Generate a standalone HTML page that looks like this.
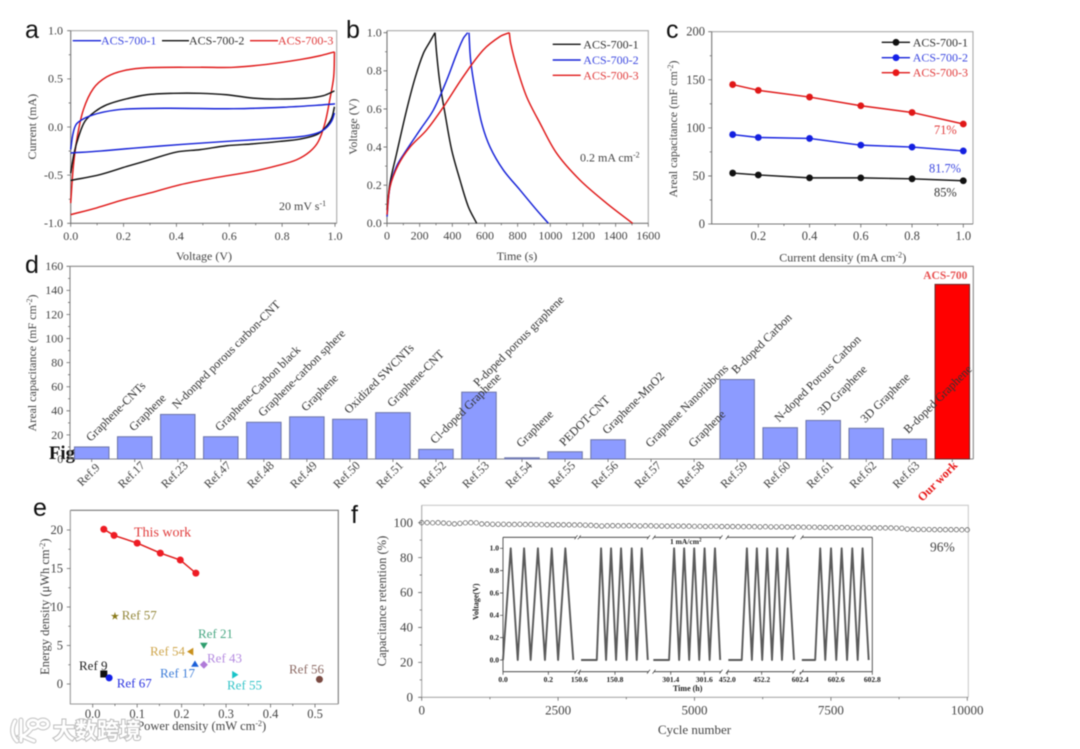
<!DOCTYPE html>
<html lang="en">
<head>
<meta charset="utf-8">
<title>ACS-700 electrochemical performance figure</title>
<style>
html,body{margin:0;padding:0;background:#fff;}
body{width:1080px;height:749px;overflow:hidden;}
#figure{display:block;filter:blur(.45px);}
</style>
</head>
<body>
<svg id="figure" xmlns="http://www.w3.org/2000/svg" width="1080" height="749" viewBox="0 0 1080 749" font-family='"Liberation Serif", serif' fill="#444" font-size="12">
  <rect x="0" y="0" width="1080" height="749" fill="#fff"/>

  <text x="49" y="459" font-size="18.7" font-weight="bold" fill="#111">Fig</text>

  <g id="plot-a"></g>
  <g id="plot-b"></g>
  <g id="plot-c"></g>
  <g id="plot-d"></g>
  <g id="plot-e"></g>
  <g id="plot-f"></g>

  <g font-family='"Liberation Sans", sans-serif' font-size="25" fill="#111">
    <text x="25" y="38">a</text>
    <text x="346" y="38">b</text>
    <text x="666" y="38">c</text>
    <text x="25" y="273">d</text>
    <text x="33" y="516">e</text>
    <text x="351" y="523">f</text>
  </g>

  <g>
    <text x="204" y="260" text-anchor="middle">Voltage (V)</text>
    <text transform="translate(36 126.7) rotate(-90)" text-anchor="middle">Current (mA)</text>
    <line x1="72.7" x2="101" y1="40.7" y2="40.7" stroke="#1420d8" stroke-width="1.4"/>
    <text x="101" y="44.5" fill="#3c48e0">ACS-700-1</text>
    <line x1="162" x2="189" y1="40.7" y2="40.7" stroke="#111" stroke-width="1.4"/>
    <text x="189" y="44.5" fill="#333">ACS-700-2</text>
    <line x1="250" x2="278" y1="40.7" y2="40.7" stroke="#e01818" stroke-width="1.4"/>
    <text x="278" y="44.5" fill="#e03c3c">ACS-700-3</text>
    <text x="279" y="210">20 mV s<tspan dy="-4" font-size="8">-1</tspan></text>
  </g>

  <g>
    <text x="517" y="260" text-anchor="middle">Time (s)</text>
    <text transform="translate(357 126.7) rotate(-90)" text-anchor="middle">Voltage (V)</text>
    <line x1="552.7" x2="580.7" y1="44.3" y2="44.3" stroke="#111" stroke-width="1.4"/>
    <text x="583.3" y="48.3" fill="#333">ACS-700-1</text>
    <line x1="552.7" x2="580.7" y1="60" y2="60" stroke="#1420d8" stroke-width="1.4"/>
    <text x="583.3" y="64" fill="#3c48e0">ACS-700-2</text>
    <line x1="552.7" x2="580.7" y1="75.3" y2="75.3" stroke="#e01818" stroke-width="1.4"/>
    <text x="583.3" y="79.3" fill="#e03c3c">ACS-700-3</text>
    <text x="580" y="161.7">0.2 mA cm<tspan dy="-4" font-size="8">-2</tspan></text>
  </g>

  <g>
    <text x="842.7" y="261.7" text-anchor="middle">Current density (mA cm<tspan dy="-4" font-size="8">-2</tspan><tspan dy="4">)</tspan></text>
    <text transform="translate(677 129) rotate(-90)" text-anchor="middle">Areal capacitance (mF cm<tspan dy="-4" font-size="8">-2</tspan><tspan dy="4">)</tspan></text>
    <line x1="881.7" x2="910" y1="42.3" y2="42.3" stroke="#111" stroke-width="1.4"/>
    <circle cx="896" cy="42.3" r="3.4" fill="#111"/>
    <text x="912.7" y="46.3" fill="#333">ACS-700-1</text>
    <line x1="881.7" x2="910" y1="57.7" y2="57.7" stroke="#1420d8" stroke-width="1.4"/>
    <circle cx="896" cy="57.7" r="3.4" fill="#1420e8"/>
    <text x="912.7" y="61.7" fill="#3c48e0">ACS-700-2</text>
    <line x1="881.7" x2="910" y1="72.7" y2="72.7" stroke="#e01818" stroke-width="1.4"/>
    <circle cx="896" cy="72.7" r="3.4" fill="#e81818"/>
    <text x="912.7" y="76.7" fill="#e03c3c">ACS-700-3</text>
    <text x="934" y="134" font-size="12.4" fill="#e03c3c">71%</text>
    <text x="929" y="172.3" font-size="12.4" fill="#3c48e0">81.7%</text>
    <text x="934" y="196.7" font-size="12.4" fill="#333">85%</text>
  </g>

  <g>
    <text transform="translate(36 363) rotate(-90)" text-anchor="middle">Areal capacitance (mF cm<tspan dy="-4" font-size="8">-2</tspan><tspan dy="4">)</tspan></text>
    <text x="945.3" y="279" text-anchor="middle" font-size="11.5" font-weight="bold" fill="#e85050">ACS-700</text>
  </g>

  <g font-size="13">
    <text x="201.7" y="730" text-anchor="middle" font-size="12.5">Power density (mW cm<tspan dy="-4" font-size="8">-2</tspan><tspan dy="4">)</tspan></text>
    <text transform="translate(49 606.7) rotate(-90)" text-anchor="middle" font-size="12.5">Energy density (μWh cm<tspan dy="-4" font-size="8">-2</tspan><tspan dy="4">)</tspan></text>
    <text x="134" y="536.7" font-size="14" fill="#e03c3c">This work</text>
    <text x="121.7" y="619.3" fill="#94883c">Ref 57</text>
    <text x="198" y="638" fill="#4aa884">Ref 21</text>
    <text x="150" y="655.7" fill="#cfa64c">Ref 54</text>
    <text x="160" y="677.3" fill="#3c7cd8">Ref 17</text>
    <text x="207" y="662.7" fill="#b48ae0">Ref 43</text>
    <text x="79" y="670" fill="#222">Ref 9</text>
    <text x="116.7" y="687.3" fill="#2c34e0">Ref 67</text>
    <text x="227" y="689.3" fill="#34c4c8">Ref 55</text>
    <text x="289" y="673.3" fill="#8c6a64">Ref 56</text>
  </g>

  <g>
    <text x="694.5" y="734" text-anchor="middle" font-size="13">Cycle number</text>
    <text transform="translate(386 601) rotate(-90)" text-anchor="middle" font-size="12.5">Capacitance retention (%)</text>
    <text x="930" y="551.7" font-size="13.5">96%</text>
    <text transform="translate(478.5 601.7) rotate(-90)" text-anchor="middle" font-size="8" font-weight="bold" fill="#222">Voltage(V)</text>
    <text x="687.7" y="691" text-anchor="middle" font-size="8" font-weight="bold" fill="#222">Time (h)</text>
    <text x="670" y="544" font-size="7.5" font-weight="bold" fill="#222">1 mA/cm<tspan dy="-2.5" font-size="5">2</tspan></text>
  </g>

  <g>
    <path d="M15 721 C11 729 12 736 17 741 M21 720 L21 741 M31 729 C28 733 25 735 22 736 C27 738 31 740 34 741 M28 724 a5 4 0 1 0 10 0 a5 4 0 1 0 -10 0 M38 724 a5 4 0 1 0 10 0 a5 4 0 1 0 -10 0" fill="none" stroke="#c8c8c8" stroke-width="5" stroke-linecap="round"/>
    <path d="M15 721 C11 729 12 736 17 741 M21 720 L21 741 M31 729 C28 733 25 735 22 736 C27 738 31 740 34 741 M28 724 a5 4 0 1 0 10 0 a5 4 0 1 0 -10 0 M38 724 a5 4 0 1 0 10 0 a5 4 0 1 0 -10 0" fill="none" stroke="#fff" stroke-width="2.8" stroke-linecap="round"/>
    <text x="53" y="738.5" font-family='"Liberation Sans", "Noto Sans CJK SC", sans-serif' font-size="22" font-weight="bold" fill="#fff" stroke="#bcbcbc" stroke-width="2" style="paint-order:stroke">大数跨境</text>
  </g>
</svg>

<script>
/* ---------- Panel a: cyclic voltammetry ---------- */
const aXTickLabels = ['0.0','0.2','0.4','0.6','0.8','1.0'];
const aYTickLabels = ['-1.0','-0.5','0.0','0.5','1.0'];
const cvBlueUpV = [0,.008,.02,.042,.073,.124,.2,.363,.615,.805,.93,1];
const cvBlueUpI = [-.235,-.08,.025,.075,.115,.155,.185,.195,.19,.205,.225,.24];
const cvBlueDownV = [.998,.987,.962,.93,.868,.74,.615,.426,.237,.11,0];
const cvBlueDownI = [.145,.06,-.02,-.065,-.1,-.125,-.145,-.18,-.22,-.25,-.27];
const cvBlackUpV = [0,.013,.03,.054,.092,.136,.2,.288,.39,.49,.59,.69,.78,.893,.956,.998];
const cvBlackUpI = [-.48,-.27,-.1,.06,.16,.23,.285,.335,.35,.35,.335,.3,.29,.3,.325,.375];
const cvBlackDownV = [.998,.987,.962,.93,.868,.79,.69,.59,.49,.4,.3,.212,.11,0];
const cvBlackDownI = [.21,.09,-.01,-.08,-.125,-.15,-.175,-.195,-.235,-.26,-.34,-.41,-.495,-.555];
const cvRedUpV = [0,.01,.025,.048,.086,.136,.2,.288,.49,.615,.74,.868,.943,.998];
const cvRedUpI = [-.79,-.41,-.1,.18,.4,.52,.585,.615,.62,.62,.65,.7,.74,.78];
const cvRedDownV = [.998,.995,.98,.962,.937,.905,.855,.79,.69,.54,.413,.3,.2,.098,0];
const cvRedDownI = [.78,.52,.28,.04,-.15,-.255,-.34,-.395,-.46,-.53,-.6,-.685,-.755,-.84,-.91];

/* ---------- Panel b: charge / discharge ---------- */
const bXTickLabels = ['0','200','400','600','800','1000','1200','1400','1600'];
const bYTickLabels = ['0.0','0.2','0.4','0.6','0.8','1.0'];
const gcdBlackChargeT = [0,18,59,120,171,222,263,294];
const gcdBlackChargeV = [.07,.21,.367,.594,.76,.89,.953,1];
const gcdBlackDischargeT = [294,304,324,355,396,447,498,549];
const gcdBlackDischargeV = [1,.89,.735,.577,.385,.227,.087,0];
const gcdBlueChargeT = [0,18,59,120,202,284,365,427,467,494];
const gcdBlueChargeV = [.035,.19,.3,.385,.49,.594,.75,.89,.97,1];
const gcdBlueDischargeT = [502,512,539,580,631,712,814,916,988];
const gcdBlueDischargeV = [1,.857,.7,.525,.4,.28,.175,.07,0];
const gcdRedChargeT = [0,18,69,141,243,345,467,590,692,749];
const gcdRedChargeV = [.045,.19,.306,.4,.49,.61,.77,.91,.98,1];
const gcdRedDischargeT = [749,757,794,855,937,1039,1181,1345,1504];
const gcdRedDischargeV = [1,.945,.82,.664,.525,.367,.227,.105,0];

/* ---------- Panel c: rate capability ---------- */
const cXTickLabels = ['0.2','0.4','0.6','0.8','1.0'];
const cYTickLabels = ['0','50','100','150','200'];
const rateCurrent = [.1,.2,.4,.6,.8,1];
const rateBlack = [53,51,48,48,47,45];
const rateBlue = [93,90,89,82,80,76];
const rateRed = [145,139,132,123,116,104];

/* ---------- Panel d: literature comparison ---------- */
const dYTickLabels = ['0','20','40','60','80','100','120','140','160'];
const dRefs = ['Ref.9','Ref.17','Ref.23','Ref.47','Ref.48','Ref.49','Ref.50','Ref.51','Ref.52','Ref.53','Ref.54','Ref.55','Ref.56','Ref.57','Ref.58','Ref.59','Ref.60','Ref.61','Ref.62','Ref.63','Our work'];
const dMaterials = ['Graphene-CNTs','Graphene','N-donped porous carbon-CNT','Graphene-Carbon black','Graphene-carbon sphere','Graphene','Oxidized SWCNTs','Graphene-CNT','Cl-doped Graphene','P-doped porous graphene','Graphene','PEDOT-CNT','Graphene-MnO2','Graphene Nanoribbons','Graphene','B-doped Carbon','N-doped Porous Carbon','3D Graphene','3D Graphene','B-doped Graphene',''];
const dValues = [10,18.5,37,18.5,30.5,35,33,38.5,8,55.5,1,6,16,0,0,66,26,32,25.5,16.5,145];

/* ---------- Panel e: Ragone ---------- */
const eXTickLabels = ['0.0','0.1','0.2','0.3','0.4','0.5'];
const eYTickLabels = ['0','5','10','15','20'];
const ragonePower = [.025,.048,.1,.152,.197,.232];
const ragoneEnergy = [20.1,19.3,18.3,17,16.1,14.4];
const refNames = ['ref-9','ref-67','ref-57','ref-21','ref-54','ref-17','ref-43','ref-55','ref-56'];
const refPower = [.025,.037,.05,.25,.22,.23,.25,.32,.51];
const refEnergy = [1.3,.8,8.8,5,4.2,2.6,2.5,1.2,.6];
const refShapes = ['square','circle','star','down','left','up','diamond','right','circle'];
const refColors = ['#111','#1420e8','#8a7a1a','#2e9e6e','#c8901c','#1c60d8','#b07ad8','#18c4c8','#7a4a42'];

/* ---------- Panel f: cycling stability ---------- */
const fXTickLabels = ['0','2500','5000','7500','10000'];
const fYTickLabels = ['0','20','40','60','80','100'];
const retentionStep = 100;
const retention = [100,100,99.9,100,99.8,99.6,99.3,99.6,99.9,100,99.9,99.3,99.2,99.1,99.1,99.1,99,99,99.1,99,99,98.9,98.9,98.8,98.8,98.8,98.8,98.8,98.7,98.7,98.6,98.5,98.3,98.1,98.2,98.3,98.2,98.2,98.3,98.2,98.1,98.2,98.2,98.1,98.1,98,98.1,98.1,98,98,97.9,97.9,97.8,97.9,97.9,97.8,97.8,97.8,97.7,97.7,97.7,97.7,97.6,97.7,97.6,97.6,97.6,97.5,97.5,97.5,97.4,97.4,97.4,97.3,97.3,97.2,97.2,97.2,97.2,97.1,97.1,97.1,97.1,97,97,97,97,96.9,96.8,96.3,96.2,96.1,96.1,96.1,96,96,96,96,96,95.9,95.9];

/* Inset: galvanostatic cycling, broken time axis */
const insetYTickLabels = ['0.0','0.2','0.4','0.6','0.8','1.0'];
const insetSeg1Ticks = ['0.0','0.2'];
const insetSeg2Ticks = ['150.6','150.8'];
const insetSeg3Ticks = ['301.4','301.6'];
const insetSeg4Ticks = ['452.0','452.2'];
const insetSeg5Ticks = ['602.4','602.6','602.8'];
const insetSeg1Time = [0,.034,.065,.093,.122,.154,.185,.215,.243,.275,.31];
const insetSeg1Volt = [0,1,0,1,0,1,0,1,0,1,0];
const insetSeg2Time = [150.61,150.698,150.722,150.75,150.778,150.806,150.834,150.866,150.894,150.922,150.95,150.984];
const insetSeg2Volt = [0,0,1,0,1,0,1,0,1,0,1,0];
const insetSeg3Time = [301.296,301.39,301.42,301.45,301.48,301.51,301.54,301.57,301.602,301.632,301.664,301.695];
const insetSeg3Volt = [0,0,1,0,1,0,1,0,1,0,1,0];
const insetSeg4Time = [452.006,452.084,452.114,452.143,452.172,452.203,452.232,452.26,452.29,452.318,452.351,452.388];
const insetSeg4Volt = [0,0,1,0,1,0,1,0,1,0,1,0];
const insetSeg5Time = [602.409,602.483,602.511,602.539,602.571,602.6,602.63,602.66,602.689,602.719,602.746,602.78];
const insetSeg5Volt = [0,0,1,0,1,0,1,0,1,0,1,0];

/* ---------- helpers ---------- */
const NS = 'http://www.w3.org/2000/svg';
function shape(parent, tag, attrs) {
  const el = document.createElementNS(NS, tag);
  for (const k in attrs) el.setAttribute(k, attrs[k]);
  parent.appendChild(el);
  return el;
}
function linear(d0, d1, r0, r1) {
  return v => r0 + (v - d0) * (r1 - r0) / (d1 - d0);
}
function smoothPath(xs, ys, sx, sy) {
  const p = xs.map((x, i) => [sx(x), sy(ys[i])]);
  const tangent = i => {
    const a = p[Math.max(i - 1, 0)], c = p[Math.min(i + 1, p.length - 1)];
    const dx = c[0] - a[0], dy = c[1] - a[1], n = Math.hypot(dx, dy) || 1;
    return [dx / n, dy / n];
  };
  let d = 'M' + p[0][0].toFixed(2) + ' ' + p[0][1].toFixed(2);
  for (let i = 0; i < p.length - 1; i++) {
    const b = p[i], c = p[i + 1], len = Math.hypot(c[0] - b[0], c[1] - b[1]) / 3;
    const t0 = tangent(i), t1 = tangent(i + 1);
    d += 'C' + (b[0] + t0[0] * len).toFixed(2) + ' ' + (b[1] + t0[1] * len).toFixed(2) + ' ' + (c[0] - t1[0] * len).toFixed(2) + ' ' + (c[1] - t1[1] * len).toFixed(2) + ' ' + c[0].toFixed(2) + ' ' + c[1].toFixed(2);
  }
  return d;
}
function polyPath(xs, ys, sx, sy) {
  return xs.map((x, i) => (i ? 'L' : 'M') + sx(x).toFixed(2) + ' ' + sy(ys[i]).toFixed(2)).join('');
}
function addCurve(parent, name, d, color, width) {
  const c = shape(parent, 'path', {d: d, fill: 'none', stroke: color, 'stroke-width': width || 1.45, 'stroke-linejoin': 'round'});
  
  
  return c;
}
function addText(parent, name, x, y, str, attrs) {
  const t = shape(parent, 'text', Object.assign({x: x, y: y}, attrs || {}));
  t.textContent = str;
  
  
  return t;
}
function addDot(parent, name, cx, cy, r, color) {
  const c = shape(parent, 'circle', {cx: cx, cy: cy, r: r, fill: color});
  
  
  return c;
}
function frame(parent, box, edge, faint) {
  const far = shape(parent, 'path', {d: 'M' + box.l + ' ' + box.t + 'H' + box.r + 'V' + box.b, fill: 'none', stroke: faint, 'stroke-width': 1.1});
  
  
  const main = shape(parent, 'path', {d: 'M' + box.l + ' ' + box.t + 'V' + box.b + 'H' + box.r, fill: 'none', stroke: edge, 'stroke-width': 1.1});
  
  
}
function midpoints(labels) {
  const out = [];
  for (let i = 0; i < labels.length - 1; i++) out.push((parseFloat(labels[i]) + parseFloat(labels[i + 1])) / 2);
  return out;
}
function xAxis(parent, box, sx, labels, baseline, size, minor) {
  let d = '';
  labels.forEach(s => { d += 'M' + sx(parseFloat(s)).toFixed(2) + ' ' + box.b + 'v3.5'; });
  if (minor) midpoints(labels).forEach(v => { d += 'M' + sx(v).toFixed(2) + ' ' + box.b + 'v2'; });
  const ticks = shape(parent, 'path', {d: d, stroke: '#666', 'stroke-width': .8, fill: 'none'});
  
  
  labels.forEach(s => addText(parent, 'x-tick-label', sx(parseFloat(s)), baseline, s, {'text-anchor': 'middle', 'font-size': size}));
}
function yAxis(parent, box, sy, labels, right, size, minor) {
  let d = '';
  labels.forEach(s => { d += 'M' + box.l + ' ' + sy(parseFloat(s)).toFixed(2) + 'h-3.5'; });
  if (minor) midpoints(labels).forEach(v => { d += 'M' + box.l + ' ' + sy(v).toFixed(2) + 'h-2'; });
  const ticks = shape(parent, 'path', {d: d, stroke: '#666', 'stroke-width': .8, fill: 'none'});
  
  
  labels.forEach(s => addText(parent, 'y-tick-label', right, sy(parseFloat(s)) + size * .32, s, {'text-anchor': 'end', 'font-size': size}));
}
function markerPath(kind, cx, cy, r) {
  const pts = {
    square: [[-r,-r],[r,-r],[r,r],[-r,r]],
    up: [[0,-r],[r*1.1,r*.8],[-r*1.1,r*.8]],
    down: [[0,r],[r*1.1,-r*.8],[-r*1.1,-r*.8]],
    left: [[-r,0],[r*.8,-r*1.1],[r*.8,r*1.1]],
    right: [[r,0],[-r*.8,-r*1.1],[-r*.8,r*1.1]],
    diamond: [[0,-r*1.15],[r*1.15,0],[0,r*1.15],[-r*1.15,0]]
  };
  if (kind === 'star') {
    const s = [];
    for (let i = 0; i < 10; i++) {
      const rad = i % 2 ? r * .45 : r * 1.25, ang = -Math.PI / 2 + i * Math.PI / 5;
      s.push([rad * Math.cos(ang), rad * Math.sin(ang)]);
    }
    pts.star = s;
  }
  return pts[kind].map((p, i) => (i ? 'L' : 'M') + (cx + p[0]).toFixed(2) + ' ' + (cy + p[1]).toFixed(2)).join('') + 'Z';
}

/* ---------- draw panel a ---------- */
(function () {
  const g = document.getElementById('plot-a');
  const box = {l: 70.7, r: 336.7, t: 30.7, b: 223.3};
  const sx = linear(0, 1, 70.7, 335);
  const sy = linear(-1, 1, 223.3, 30.7);
  frame(g, box, '#777', '#aaa');
  xAxis(g, box, sx, aXTickLabels, 240, 12, true);
  yAxis(g, box, sy, aYTickLabels, 63, 12, true);
  addCurve(g, 'cv-curve-red-forward', smoothPath(cvRedUpV, cvRedUpI, sx, sy), '#e01818');
  addCurve(g, 'cv-curve-red-reverse', smoothPath(cvRedDownV, cvRedDownI, sx, sy), '#e01818');
  addCurve(g, 'cv-curve-black-forward', smoothPath(cvBlackUpV, cvBlackUpI, sx, sy), '#111');
  addCurve(g, 'cv-curve-black-reverse', smoothPath(cvBlackDownV, cvBlackDownI, sx, sy), '#111');
  addCurve(g, 'cv-curve-blue-forward', smoothPath(cvBlueUpV, cvBlueUpI, sx, sy), '#1420d8');
  addCurve(g, 'cv-curve-blue-reverse', smoothPath(cvBlueDownV, cvBlueDownI, sx, sy), '#1420d8');
})();

/* ---------- draw panel b ---------- */
(function () {
  const g = document.getElementById('plot-b');
  const box = {l: 387, r: 648.3, t: 30.7, b: 223.3};
  const sx = linear(0, 1600, 387, 648.3);
  const sy = linear(0, 1, 223.3, 32.7);
  frame(g, box, '#777', '#aaa');
  xAxis(g, box, sx, bXTickLabels, 239.5, 12, true);
  yAxis(g, box, sy, bYTickLabels, 381.7, 12, true);
  addCurve(g, 'gcd-black-charge', smoothPath(gcdBlackChargeT, gcdBlackChargeV, sx, sy), '#111');
  addCurve(g, 'gcd-black-discharge', smoothPath(gcdBlackDischargeT, gcdBlackDischargeV, sx, sy), '#111');
  addCurve(g, 'gcd-blue-charge', smoothPath(gcdBlueChargeT, gcdBlueChargeV, sx, sy), '#1420d8');
  addCurve(g, 'gcd-blue-discharge', smoothPath(gcdBlueDischargeT, gcdBlueDischargeV, sx, sy), '#1420d8');
  addCurve(g, 'gcd-red-charge', smoothPath(gcdRedChargeT, gcdRedChargeV, sx, sy), '#e01818');
  addCurve(g, 'gcd-red-discharge', smoothPath(gcdRedDischargeT, gcdRedDischargeV, sx, sy), '#e01818');
})();

/* ---------- draw panel c ---------- */
(function () {
  const g = document.getElementById('plot-c');
  const box = {l: 711.7, r: 973, t: 31.7, b: 224};
  const sx = linear(.2, 1, 758.3, 963.3);
  const sy = linear(0, 200, 224, 31.7);
  frame(g, box, '#777', '#aaa');
  xAxis(g, box, sx, cXTickLabels, 240, 12.5, true);
  yAxis(g, box, sy, cYTickLabels, 705, 12.5, true);
  [[rateBlack, '#111', 'black'], [rateBlue, '#1420e0', 'blue'], [rateRed, '#e01818', 'red']].forEach(function (s) {
    addCurve(g, 'rate-line-' + s[2], polyPath(rateCurrent, s[0], sx, sy), s[1]);
    s[0].forEach(function (v, i) {
      addDot(g, 'rate-point-' + s[2], sx(rateCurrent[i]), sy(v), 3.4, s[1]);
    });
  });
})();

/* ---------- draw panel d ---------- */
(function () {
  const g = document.getElementById('plot-d');
  const box = {l: 70, r: 973.3, t: 266.3, b: 459};
  const sy = linear(0, 160, 459, 266.3);
  const first = 91.7, step = 43.03, barW = 34.5;
  const bandCenter = i => first + i * step;
  frame(g, box, '#888', '#888');
  yAxis(g, box, sy, dYTickLabels, 63.3, 12, true);
  dValues.forEach(function (v, i) {
    const c = bandCenter(i);
    const last = i === dValues.length - 1;
    if (v > 0) {
      const bar = shape(g, 'rect', {x: c - barW / 2, y: sy(v), width: barW, height: 459 - sy(v), fill: last ? '#ff0000' : '#8c9bff', stroke: last ? '#6a2a2a' : '#6c74a8', 'stroke-width': 1});
      
      
    }
    const tick = shape(g, 'path', {d: 'M' + c.toFixed(2) + ' 459v3', stroke: '#666', 'stroke-width': .8});
    
    
    const cx = last ? c - 12 : c - .5, cy = last ? 484 : 477.5;
    const t = addText(g, 'x-category-label', cx, cy, dRefs[i], {'text-anchor': 'middle', transform: 'rotate(-45 ' + cx + ' ' + cy + ')'});
    if (last) {
      t.setAttribute('fill', '#e81818');
      t.setAttribute('font-weight', 'bold');
    }
  });
  dMaterials.forEach(function (m, i) {
    if (!m) return;
    const px = bandCenter(i) - 1;
    const py = Math.min(sy(dValues[i]) - 5, 448);
    addText(g, 'material-label', px, py, m, {transform: 'rotate(-45 ' + px + ' ' + py + ')', fill: '#333'});
  });
})();

/* ---------- draw panel e ---------- */
(function () {
  const g = document.getElementById('plot-e');
  const box = {l: 70.3, r: 338.3, t: 510.3, b: 704};
  const sx = linear(0, .5, 92.7, 315);
  const sy = linear(0, 20, 684, 530);
  frame(g, box, '#999', '#777');
  xAxis(g, box, sx, eXTickLabels, 718, 12.5, true);
  yAxis(g, box, sy, eYTickLabels, 63, 12.5, true);
  addCurve(g, 'this-work-line', polyPath(ragonePower, ragoneEnergy, sx, sy), '#e01818');
  ragonePower.forEach(function (p, i) {
    addDot(g, 'this-work-point', sx(p), sy(ragoneEnergy[i]), 3.5, '#ee1c24');
  });
  refNames.forEach(function (n, i) {
    if (refShapes[i] === 'circle') {
      addDot(g, 'point-' + n, sx(refPower[i]), sy(refEnergy[i]), 3.5, refColors[i]);
    } else {
      const m = shape(g, 'path', {d: markerPath(refShapes[i], sx(refPower[i]), sy(refEnergy[i]), 3.5), fill: refColors[i]});
      
      
    }
  });
})();

/* ---------- draw panel f ---------- */
(function () {
  const g = document.getElementById('plot-f');
  const box = {l: 421.7, r: 968.3, t: 505.3, b: 697.3};
  const sx = linear(0, 10000, 421.7, 967.3);
  const sy = linear(0, 100, 697.3, 522.7);
  frame(g, box, '#aaa', '#ccc');
  xAxis(g, box, sx, fXTickLabels, 714.3, 13, true);
  yAxis(g, box, sy, fYTickLabels, 413, 13, true);
  retention.forEach(function (v, i) {
    const c = shape(g, 'circle', {cx: sx(i * retentionStep), cy: sy(v), r: 2.2, fill: 'none', stroke: '#555', 'stroke-width': .7});
    
    
  });

  /* inset */
  const ib = {l: 503, r: 872.3, t: 537.3, b: 671.7};
  const vy = linear(0, 1, 660, 548.3);
  const axesInk = '#333';
  const segs = [
    {t0: 0, t1: .322, p0: 503, p1: 576, time: insetSeg1Time, volt: insetSeg1Volt, ticks: insetSeg1Ticks},
    {t0: 150.6, t1: 150.988, p0: 579.3, p1: 648.5, time: insetSeg2Time, volt: insetSeg2Volt, ticks: insetSeg2Ticks},
    {t0: 301.3, t1: 301.7, p0: 654, p1: 721, time: insetSeg3Time, volt: insetSeg3Volt, ticks: insetSeg3Ticks},
    {t0: 452, t1: 452.388, p0: 727.3, p1: 794, time: insetSeg4Time, volt: insetSeg4Volt, ticks: insetSeg4Ticks},
    {t0: 602.41, t1: 602.8, p0: 802, p1: 872.3, time: insetSeg5Time, volt: insetSeg5Volt, ticks: insetSeg5Ticks}
  ];
  const left = shape(g, 'path', {d: 'M' + ib.l + ' ' + ib.t + 'V' + ib.b, stroke: axesInk, 'stroke-width': .8, fill: 'none'});
  
  
  const right = shape(g, 'path', {d: 'M' + ib.r + ' ' + ib.t + 'V' + ib.b, stroke: axesInk, 'stroke-width': .8, fill: 'none'});
  
  
  let yt = '';
  insetYTickLabels.forEach(function (s) {
    yt += 'M' + ib.l + ' ' + vy(parseFloat(s)).toFixed(2) + 'h-3';
    addText(g, 'inset-y-tick-label', 499, vy(parseFloat(s)) + 2.4, s, {'text-anchor': 'end', 'font-size': 7.5, 'font-weight': 'bold', fill: '#222'});
  });
  const yTicks = shape(g, 'path', {d: yt, stroke: axesInk, 'stroke-width': .7, fill: 'none'});
  
  
  segs.forEach(function (s, i) {
    const tx = linear(s.t0, s.t1, s.p0, s.p1);
    const rule = shape(g, 'path', {d: 'M' + s.p0 + ' ' + ib.t + 'H' + s.p1 + 'M' + s.p0 + ' ' + ib.b + 'H' + s.p1, stroke: axesInk, 'stroke-width': .8, fill: 'none'});
    
    
    if (i < segs.length - 1) {
      const n = segs[i + 1].p0;
      const brk = shape(g, 'path', {d: 'M' + (s.p1 - 1.5) + ' ' + (ib.t + 2) + 'l3 -4M' + (n - 1.5) + ' ' + (ib.t + 2) + 'l3 -4M' + (s.p1 - 1.5) + ' ' + (ib.b + 2) + 'l3 -4M' + (n - 1.5) + ' ' + (ib.b + 2) + 'l3 -4', stroke: axesInk, 'stroke-width': .7, fill: 'none'});
      
      
    }
    let xt = '';
    s.ticks.forEach(function (lab) {
      xt += 'M' + tx(parseFloat(lab)).toFixed(2) + ' ' + ib.b + 'v3';
      addText(g, 'inset-x-tick-label', tx(parseFloat(lab)), 682, lab, {'text-anchor': 'middle', 'font-size': 7.5, 'font-weight': 'bold', fill: '#222'});
    });
    const xTicks = shape(g, 'path', {d: xt, stroke: axesInk, 'stroke-width': .7, fill: 'none'});
    
    
    addCurve(g, 'inset-voltage-trace', polyPath(s.time, s.volt, tx, vy), '#5a5a5a', 1.9);
  });
})();
</script>
</body>
</html>
